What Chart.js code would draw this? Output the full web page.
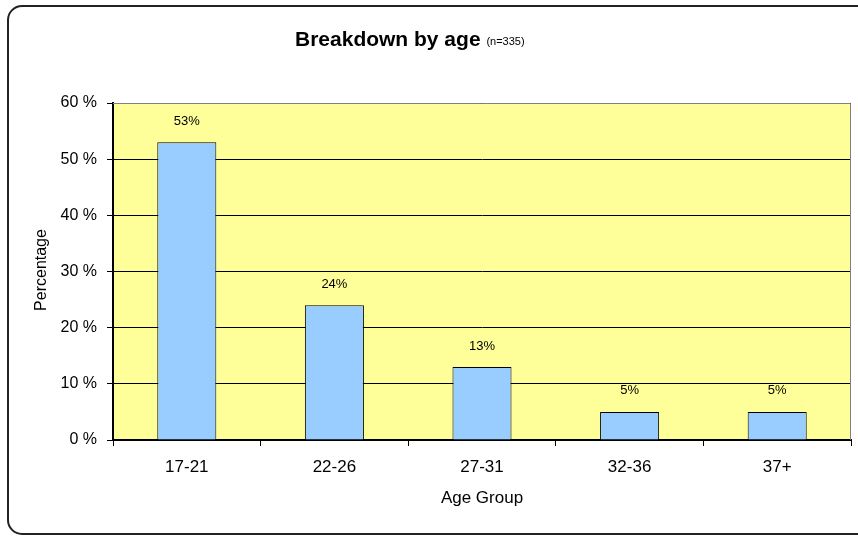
<!DOCTYPE html>
<html>
<head>
<meta charset="utf-8">
<script src="https://cdn.jsdelivr.net/npm/chart.js@4"></script>
<style>
  html, body { margin: 0; padding: 0; background: #fff; }
  #wrap { width: 858px; height: 537px; }
</style>
</head>
<body>
<div id="wrap"><canvas id="grafico_edad" width="858" height="537"></canvas></div>
<script>
const grupos = ['17-21', '22-26', '27-31', '32-36', '37+']
const porcentajes = [53, 24, 13, 5, 5]
const ticksY = [0, 10, 20, 30, 40, 50, 60]

const fuente = 'Arial, "Liberation Sans", sans-serif'

// marco redondeado, titulos y etiquetas de datos
const extras = {
    id: 'extras',
    beforeDraw(chart) {
        const ctx = chart.ctx
        const a = chart.chartArea
        ctx.save()
        ctx.fillStyle = '#fff'
        ctx.fillRect(0, 0, chart.width, chart.height)
        // marco
        ctx.strokeStyle = '#222'
        ctx.lineWidth = 2
        ctx.beginPath()
        ctx.roundRect(8, 6, 870, 528, 14)
        ctx.stroke()
        // fondo amarillo del area
        ctx.fillStyle = '#FFFF99'
        ctx.fillRect(a.left, a.top, a.right - a.left, a.bottom - a.top)
        ctx.restore()
    },
    afterDatasetsDraw(chart) {
        const ctx = chart.ctx
        const a = chart.chartArea
        ctx.save()
        // borde gris arriba y derecha
        ctx.strokeStyle = '#808080'
        ctx.lineWidth = 1
        ctx.beginPath()
        ctx.moveTo(a.left, a.top + 0.5)
        ctx.lineTo(a.right - 0.5, a.top + 0.5)
        ctx.lineTo(a.right - 0.5, a.bottom)
        ctx.stroke()
        // etiquetas de datos
        ctx.fillStyle = '#000'
        ctx.font = '13px ' + fuente
        ctx.textAlign = 'center'
        ctx.textBaseline = 'middle'
        chart.getDatasetMeta(0).data.forEach((bar, i) => {
            ctx.fillText(porcentajes[i] + '%', bar.x, bar.y - 21)
        })
        // titulo
        ctx.textBaseline = 'alphabetic'
        ctx.textAlign = 'left'
        ctx.font = 'bold 21px ' + fuente
        const t1 = 'Breakdown by age '
        const w1 = ctx.measureText(t1).width
        ctx.fillText(t1, 295, 46)
        ctx.font = '11px ' + fuente
        ctx.fillText('(n=335)', 295 + w1, 45)
        // titulo eje x
        ctx.textAlign = 'center'
        ctx.font = '17px ' + fuente
        ctx.fillText('Age Group', 482, 503)
        // titulo eje y
        ctx.translate(46, 270)
        ctx.rotate(-Math.PI / 2)
        ctx.font = '16px ' + fuente
        ctx.fillText('Percentage', 0, 0)
        ctx.restore()
    }
}

const ctx = document.getElementById('grafico_edad').getContext('2d')

const data = {
    labels: grupos,
    datasets: [{
        data: porcentajes,
        backgroundColor: '#99CCFF',
        borderColor: '#000',
        borderWidth: 1,
        barPercentage: 0.4,
        categoryPercentage: 1
    }]
}

const options = {
    responsive: false,
    animation: false,
    layout: { padding: { left: 0, top: 103, right: 7, bottom: 0 } },
    scales: {
        x: {
            offset: true,
            grid: {
                offset: true,
                drawOnChartArea: false,
                drawTicks: true,
                tickLength: 6,
                color: '#000'
            },
            border: { color: '#000', width: 2 },
            ticks: { color: '#000', font: { size: 17, family: fuente }, padding: 11 },
            afterFit(s) { s.height = 97 }
        },
        y: {
            min: 0,
            max: 60,
            afterBuildTicks(s) { s.ticks = ticksY.map(v => ({ value: v })) },
            grid: { color: '#000', lineWidth: 1, tickLength: 6 },
            border: { color: '#000', width: 2 },
            ticks: {
                color: '#000',
                font: { size: 16, family: fuente },
                padding: 10,
                callback: v => v + ' %'
            },
            afterFit(s) { s.width = 113 }
        }
    },
    plugins: {
        legend: { display: false },
        title: { display: false },
        tooltip: { enabled: false }
    }
}

new Chart(ctx, { type: 'bar', data, options, plugins: [extras] })
</script>
</body>
</html>
